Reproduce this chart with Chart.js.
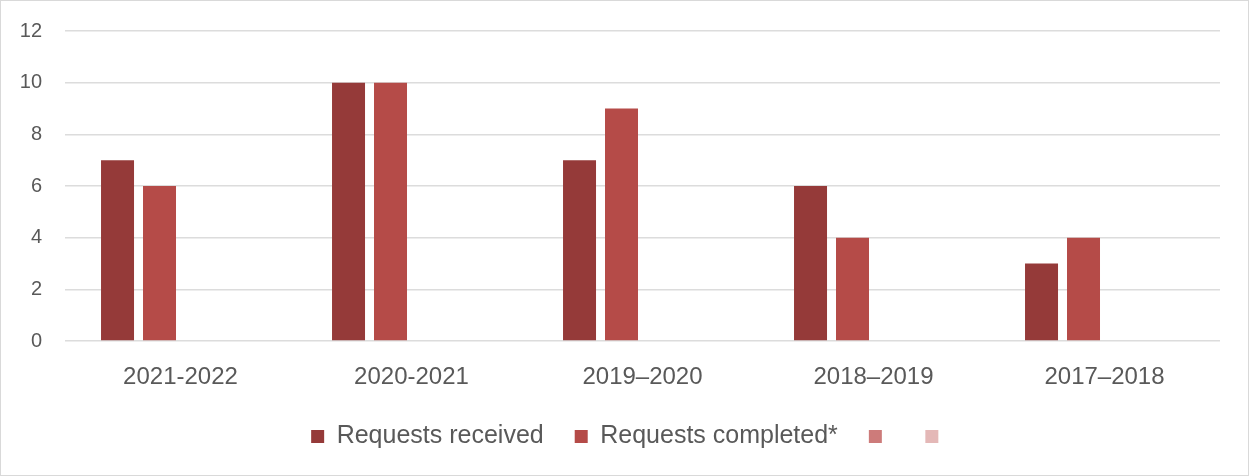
<!DOCTYPE html>
<html>
<head>
<meta charset="utf-8">
<title>Requests received vs completed</title>
<script src="https://cdn.jsdelivr.net/npm/chart.js@4/dist/chart.umd.min.js"></script>
<style>
  html, body { margin: 0; padding: 0; background: #fff; }
  .frame { width: 1249px; height: 476px; box-sizing: border-box; border: 1px solid #d9d9d9; position: relative; }
  .frame canvas { position: absolute; left: -1px; top: -1px; }
</style>
</head>
<body>
<div class="frame"><canvas id="chart" width="1249" height="476"></canvas></div>
<script>
  // ── Data ────────────────────────────────────────
  var years = ["2021-2022", "2020-2021", "2019\u20132020", "2018\u20132019", "2017\u20132018"];
  var received = [7, 10, 7, 6, 3];
  var completed = [6, 10, 9, 4, 4];
  var blankA = [null, null, null, null, null];
  var blankB = [null, null, null, null, null];

  var FONT = "'Liberation Sans', Arial, sans-serif";
  var GREY = "#595959";
  var LEGEND_H = 83;
  var LEGEND_SHIFT = 21;

  // fixed legend height so the plot bottom lines up with the reference,
  // and nudge the legend row so it sits centred on the whole frame
  var legendTweak = {
    id: "legendTweak",
    beforeLayout: function (chart) {
      var lg = chart.legend;
      if (!lg || lg._fixedH) return;
      var fit = lg.fit;
      lg.fit = function () { fit.call(this); this.height = LEGEND_H; };
      lg._fixedH = true;
    },
    afterLayout: function (chart) {
      var lg = chart.legend;
      if (!lg) return;
      lg.left += LEGEND_SHIFT;
      lg.right += LEGEND_SHIFT;
    }
  };

  new Chart(document.getElementById("chart"), {
    type: "bar",
    data: {
      labels: years,
      datasets: [
        { label: "Requests received", data: received, backgroundColor: "#953a39" },
        { label: "Requests completed*", data: completed, backgroundColor: "#b54b48" },
        { label: "", data: blankA, backgroundColor: "#cd7b7a" },
        { label: "", data: blankB, backgroundColor: "#e4b8b7" }
      ]
    },
    options: {
      responsive: false,
      animation: false,
      categoryPercentage: 0.727,
      barPercentage: 0.786,
      layout: { padding: { left: 0, right: 29, top: 31, bottom: 0 } },
      plugins: {
        legend: {
          position: "bottom",
          labels: {
            boxWidth: 13, boxHeight: 13, padding: 31, color: GREY,
            font: { family: FONT, size: 25, lineHeight: 1.0 }
          }
        },
        tooltip: { enabled: false }
      },
      scales: {
        x: {
          afterFit: function (axis) { axis.height = 52; },
          grid: { display: false, drawTicks: false },
          border: { display: false },
          ticks: { color: GREY, padding: 22, font: { family: FONT, size: 24 } }
        },
        y: {
          min: 0, max: 12,
          afterFit: function (axis) { axis.width = 65; axis.paddingTop = 0; },
          grid: { color: "#dcdcdc", lineWidth: 1.5, drawTicks: false },
          border: { display: false },
          ticks: { stepSize: 2, color: GREY, padding: 23, font: { family: FONT, size: 20 } }
        }
      }
    },
    plugins: [legendTweak]
  });
</script>
</body>
</html>
